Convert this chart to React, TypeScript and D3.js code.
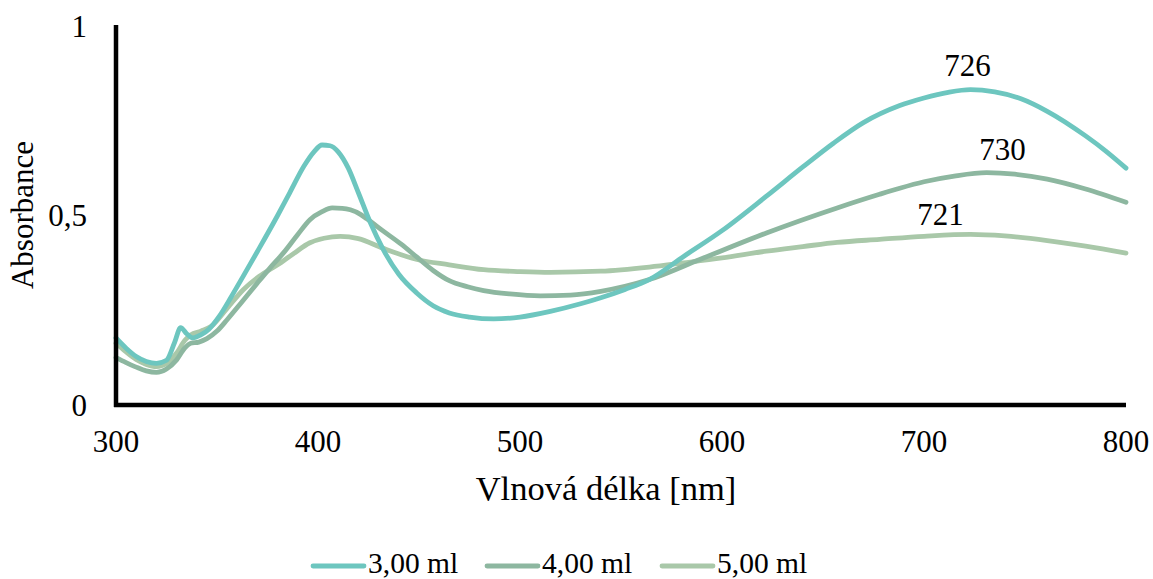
import React from "react";
import * as d3 from "d3";

const seriesNames = ["3,00 ml", "4,00 ml", "5,00 ml"];
const seriesColors = ["#6DC6BF", "#8DB7A0", "#A9C8A9"];

const nm3: number[] = [300,305,310,315,320,325,329,332,335,338,342,346,351,357,363,370,380,386,393,398,402,406,410,415,420,426,432,440,449,457,465,475,487,500,515,530,540,552,564,581,600,622,640,655,670,688,700,712,723,735,748,761,780,790,800];
const abs3: number[] = [0.177,0.150,0.128,0.115,0.110,0.118,0.165,0.204,0.188,0.177,0.185,0.200,0.233,0.285,0.340,0.405,0.500,0.560,0.630,0.668,0.686,0.684,0.668,0.625,0.560,0.480,0.413,0.345,0.295,0.262,0.243,0.232,0.227,0.232,0.247,0.267,0.283,0.305,0.331,0.392,0.460,0.551,0.628,0.690,0.745,0.790,0.810,0.825,0.832,0.826,0.808,0.775,0.710,0.670,0.625];

const nm4: number[] = [300,305,310,315,320,325,330,334,337,341,345,350,355,362,370,376,383,390,396,402,407,412,416,421,424,432,441,449,457,465,474,482,495,510,525,540,564,589,622,657,678,688,700,715,731,745,761,780,800];
const abs4: number[] = [0.125,0.112,0.100,0.090,0.086,0.095,0.119,0.150,0.163,0.166,0.175,0.195,0.225,0.270,0.322,0.360,0.402,0.450,0.489,0.510,0.520,0.519,0.515,0.503,0.492,0.460,0.425,0.390,0.355,0.328,0.312,0.302,0.293,0.288,0.290,0.300,0.331,0.384,0.454,0.520,0.556,0.572,0.589,0.604,0.613,0.609,0.596,0.570,0.535];

const nm5: number[] = [300,305,310,315,320,325,330,334,337,342,347,355,363,371,380,388,396,403,411,420,432,449,465,482,500,515,540,564,581,600,622,640,657,678,700,723,740,761,780,800];
const abs5: number[] = [0.163,0.140,0.120,0.107,0.101,0.110,0.137,0.170,0.185,0.195,0.207,0.255,0.304,0.340,0.370,0.400,0.428,0.440,0.445,0.439,0.414,0.384,0.370,0.357,0.352,0.350,0.353,0.364,0.375,0.388,0.406,0.418,0.429,0.437,0.445,0.450,0.446,0.434,0.419,0.401];

const peakLabels = ["726", "730", "721"];
const peakNm = [726, 730, 721];
const peakAbs = [0.833, 0.613, 0.45];

const xTicks = [300, 400, 500, 600, 700, 800];
const yTicks = [0, 0.5, 1];
const yTickLabels = ["0", "0,5", "1"];

const FONT = "'Liberation Serif', 'Times New Roman', serif";

export default function App() {
  const W = 1153, H = 579;
  const x = d3.scaleLinear().domain([300, 800]).range([116, 1126]);
  const y = d3.scaleLinear().domain([0, 1]).range([405, 26]);
  const line = d3
    .line<[number, number]>()
    .x((d) => x(d[0]))
    .y((d) => y(d[1]))
    .curve(d3.curveMonotoneX);

  const series = [
    nm3.map((n, i) => [n, abs3[i]] as [number, number]),
    nm4.map((n, i) => [n, abs4[i]] as [number, number]),
    nm5.map((n, i) => [n, abs5[i]] as [number, number]),
  ];

  const legendLineX = [313, 487, 662];
  const drawOrder = [2, 1, 0];
  const labelDx = [-9, 18, -26];
  const labelDy = [-13, -13, -9.5];

  return (
    <svg
      width={W}
      height={H}
      style={{ position: "absolute", left: 0, top: 0, background: "#fff" }}
      fontFamily={FONT}
    >
      <rect x={0} y={0} width={W} height={H} fill="#fff" />
      {drawOrder.map((si) => (
        <path
          key={si}
          d={line(series[si]) || ""}
          fill="none"
          stroke={seriesColors[si]}
          strokeWidth={4.8}
          strokeLinejoin="round"
          strokeLinecap="round"
        />
      ))}
      <line x1={116} x2={116} y1={y(1) - 1} y2={y(0) + 2} stroke="#000" strokeWidth={4.5} />
      <line x1={114} x2={x(800)} y1={y(0)} y2={y(0)} stroke="#000" strokeWidth={4.5} />
      {yTicks.map((t, i) => (
        <text key={t} x={87} y={y(t)} dy="0.35em" textAnchor="end" fontSize={31} fill="#000">
          {yTickLabels[i]}
        </text>
      ))}
      {xTicks.map((t) => (
        <text key={t} x={x(t)} y={452} textAnchor="middle" fontSize={31} fill="#000">
          {t}
        </text>
      ))}
      {peakLabels.map((l, i) => (
        <text
          key={l}
          x={x(peakNm[i]) + labelDx[i]}
          y={y(peakAbs[i]) + labelDy[i]}
          textAnchor="middle"
          fontSize={31}
          fill="#000"
        >
          {l}
        </text>
      ))}
      <text x={606} y={500} textAnchor="middle" fontSize={34.5} fill="#000">
        Vlnová délka [nm]
      </text>
      <text
        transform={`translate(33,215) rotate(-90)`}
        textAnchor="middle"
        fontSize={31}
        fill="#000"
      >
        Absorbance
      </text>
      {seriesNames.map((n, i) => (
        <g key={n}>
          <line
            x1={legendLineX[i]}
            x2={legendLineX[i] + 51}
            y1={566}
            y2={566}
            stroke={seriesColors[i]}
            strokeWidth={4.8}
            strokeLinecap="round"
          />
          <text x={legendLineX[i] + 55} y={572.5} fontSize={29.5} fill="#000">
            {n}
          </text>
        </g>
      ))}
    </svg>
  );
}
